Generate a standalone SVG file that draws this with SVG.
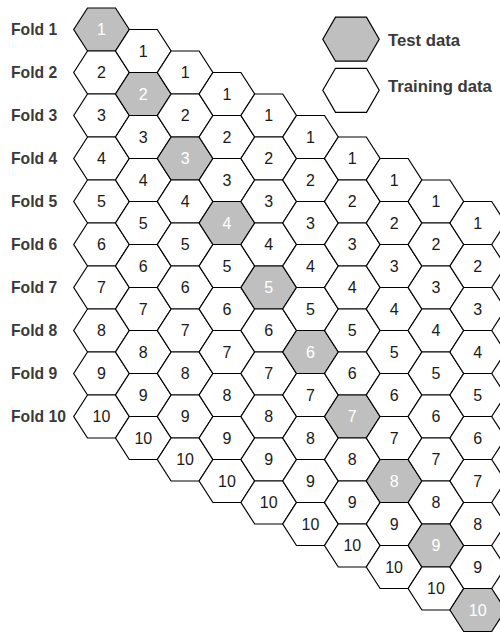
<svg xmlns="http://www.w3.org/2000/svg" xmlns:xlink="http://www.w3.org/1999/xlink" width="500" height="633" viewBox="0 0 500 633">
<style>
.tr{fill:#ffffff;stroke:#000;stroke-width:1.2;stroke-linejoin:miter}
.te{fill:#bfbfbf;stroke:#000;stroke-width:1.2;stroke-linejoin:miter}
.n{font-family:"Liberation Sans",Arial,sans-serif;font-size:16px;fill:#1a1a1a;text-anchor:middle}
.nw{font-family:"Liberation Sans",Arial,sans-serif;font-size:16px;fill:#ffffff;text-anchor:middle}
.fl{font-family:"Liberation Sans",Arial,sans-serif;font-size:15.7px;font-weight:bold;fill:#3a3a3a}
.lg{font-family:"Liberation Sans",Arial,sans-serif;font-size:16.7px;font-weight:bold;fill:#3a3a3a}
</style>
<defs>
<path id="h" d="M-27.8,0 L-14,-21.5 L14,-21.5 L27.8,0 L14,21.5 L-14,21.5 Z"/>
<path id="hl" d="M-28.2,0 L-15.5,-22 L15.5,-22 L28.2,0 L15.5,22 L-15.5,22 Z"/>
</defs>
<rect width="500" height="633" fill="#ffffff"/>
<g id="connectors"></g>
<g id="fold-labels">
<text class="fl" x="11" y="34.5">Fold 1</text>
<text class="fl" x="11" y="77.5">Fold 2</text>
<text class="fl" x="11" y="120.5">Fold 3</text>
<text class="fl" x="11" y="163.5">Fold 4</text>
<text class="fl" x="11" y="206.5">Fold 5</text>
<text class="fl" x="11" y="249.5">Fold 6</text>
<text class="fl" x="11" y="292.5">Fold 7</text>
<text class="fl" x="11" y="335.5">Fold 8</text>
<text class="fl" x="11" y="378.5">Fold 9</text>
<text class="fl" x="11" y="421.5">Fold 10</text>
</g>
<g id="legend-test"><use xlink:href="#hl" class="te" x="351" y="39.2"/><text class="lg" x="388" y="46">Test data</text></g>
<g id="legend-train"><use xlink:href="#hl" class="tr" x="351" y="90.3"/><text class="lg" x="388" y="91.7">Training data</text></g>
<g id="col0">
<g id="n0-1" transform="translate(101.5 29.5)"><use xlink:href="#h" class="te"/><text class="nw" y="5.8">1</text></g>
<g id="n0-2" transform="translate(101.5 72.5)"><use xlink:href="#h" class="tr"/><text class="n" y="5.8">2</text></g>
<g id="n0-3" transform="translate(101.5 115.5)"><use xlink:href="#h" class="tr"/><text class="n" y="5.8">3</text></g>
<g id="n0-4" transform="translate(101.5 158.5)"><use xlink:href="#h" class="tr"/><text class="n" y="5.8">4</text></g>
<g id="n0-5" transform="translate(101.5 201.5)"><use xlink:href="#h" class="tr"/><text class="n" y="5.8">5</text></g>
<g id="n0-6" transform="translate(101.5 244.5)"><use xlink:href="#h" class="tr"/><text class="n" y="5.8">6</text></g>
<g id="n0-7" transform="translate(101.5 287.5)"><use xlink:href="#h" class="tr"/><text class="n" y="5.8">7</text></g>
<g id="n0-8" transform="translate(101.5 330.5)"><use xlink:href="#h" class="tr"/><text class="n" y="5.8">8</text></g>
<g id="n0-9" transform="translate(101.5 373.5)"><use xlink:href="#h" class="tr"/><text class="n" y="5.8">9</text></g>
<g id="n0-10" transform="translate(101.5 416.5)"><use xlink:href="#h" class="tr"/><text class="n" y="5.8">10</text></g>
</g>
<g id="col1">
<g id="n1-1" transform="translate(143.3 51)"><use xlink:href="#h" class="tr"/><text class="n" y="5.8">1</text></g>
<g id="n1-2" transform="translate(143.3 94)"><use xlink:href="#h" class="te"/><text class="nw" y="5.8">2</text></g>
<g id="n1-3" transform="translate(143.3 137)"><use xlink:href="#h" class="tr"/><text class="n" y="5.8">3</text></g>
<g id="n1-4" transform="translate(143.3 180)"><use xlink:href="#h" class="tr"/><text class="n" y="5.8">4</text></g>
<g id="n1-5" transform="translate(143.3 223)"><use xlink:href="#h" class="tr"/><text class="n" y="5.8">5</text></g>
<g id="n1-6" transform="translate(143.3 266)"><use xlink:href="#h" class="tr"/><text class="n" y="5.8">6</text></g>
<g id="n1-7" transform="translate(143.3 309)"><use xlink:href="#h" class="tr"/><text class="n" y="5.8">7</text></g>
<g id="n1-8" transform="translate(143.3 352)"><use xlink:href="#h" class="tr"/><text class="n" y="5.8">8</text></g>
<g id="n1-9" transform="translate(143.3 395)"><use xlink:href="#h" class="tr"/><text class="n" y="5.8">9</text></g>
<g id="n1-10" transform="translate(143.3 438)"><use xlink:href="#h" class="tr"/><text class="n" y="5.8">10</text></g>
</g>
<g id="col2">
<g id="n2-1" transform="translate(185.1 72.5)"><use xlink:href="#h" class="tr"/><text class="n" y="5.8">1</text></g>
<g id="n2-2" transform="translate(185.1 115.5)"><use xlink:href="#h" class="tr"/><text class="n" y="5.8">2</text></g>
<g id="n2-3" transform="translate(185.1 158.5)"><use xlink:href="#h" class="te"/><text class="nw" y="5.8">3</text></g>
<g id="n2-4" transform="translate(185.1 201.5)"><use xlink:href="#h" class="tr"/><text class="n" y="5.8">4</text></g>
<g id="n2-5" transform="translate(185.1 244.5)"><use xlink:href="#h" class="tr"/><text class="n" y="5.8">5</text></g>
<g id="n2-6" transform="translate(185.1 287.5)"><use xlink:href="#h" class="tr"/><text class="n" y="5.8">6</text></g>
<g id="n2-7" transform="translate(185.1 330.5)"><use xlink:href="#h" class="tr"/><text class="n" y="5.8">7</text></g>
<g id="n2-8" transform="translate(185.1 373.5)"><use xlink:href="#h" class="tr"/><text class="n" y="5.8">8</text></g>
<g id="n2-9" transform="translate(185.1 416.5)"><use xlink:href="#h" class="tr"/><text class="n" y="5.8">9</text></g>
<g id="n2-10" transform="translate(185.1 459.5)"><use xlink:href="#h" class="tr"/><text class="n" y="5.8">10</text></g>
</g>
<g id="col3">
<g id="n3-1" transform="translate(226.9 94)"><use xlink:href="#h" class="tr"/><text class="n" y="5.8">1</text></g>
<g id="n3-2" transform="translate(226.9 137)"><use xlink:href="#h" class="tr"/><text class="n" y="5.8">2</text></g>
<g id="n3-3" transform="translate(226.9 180)"><use xlink:href="#h" class="tr"/><text class="n" y="5.8">3</text></g>
<g id="n3-4" transform="translate(226.9 223)"><use xlink:href="#h" class="te"/><text class="nw" y="5.8">4</text></g>
<g id="n3-5" transform="translate(226.9 266)"><use xlink:href="#h" class="tr"/><text class="n" y="5.8">5</text></g>
<g id="n3-6" transform="translate(226.9 309)"><use xlink:href="#h" class="tr"/><text class="n" y="5.8">6</text></g>
<g id="n3-7" transform="translate(226.9 352)"><use xlink:href="#h" class="tr"/><text class="n" y="5.8">7</text></g>
<g id="n3-8" transform="translate(226.9 395)"><use xlink:href="#h" class="tr"/><text class="n" y="5.8">8</text></g>
<g id="n3-9" transform="translate(226.9 438)"><use xlink:href="#h" class="tr"/><text class="n" y="5.8">9</text></g>
<g id="n3-10" transform="translate(226.9 481)"><use xlink:href="#h" class="tr"/><text class="n" y="5.8">10</text></g>
</g>
<g id="col4">
<g id="n4-1" transform="translate(268.7 115.5)"><use xlink:href="#h" class="tr"/><text class="n" y="5.8">1</text></g>
<g id="n4-2" transform="translate(268.7 158.5)"><use xlink:href="#h" class="tr"/><text class="n" y="5.8">2</text></g>
<g id="n4-3" transform="translate(268.7 201.5)"><use xlink:href="#h" class="tr"/><text class="n" y="5.8">3</text></g>
<g id="n4-4" transform="translate(268.7 244.5)"><use xlink:href="#h" class="tr"/><text class="n" y="5.8">4</text></g>
<g id="n4-5" transform="translate(268.7 287.5)"><use xlink:href="#h" class="te"/><text class="nw" y="5.8">5</text></g>
<g id="n4-6" transform="translate(268.7 330.5)"><use xlink:href="#h" class="tr"/><text class="n" y="5.8">6</text></g>
<g id="n4-7" transform="translate(268.7 373.5)"><use xlink:href="#h" class="tr"/><text class="n" y="5.8">7</text></g>
<g id="n4-8" transform="translate(268.7 416.5)"><use xlink:href="#h" class="tr"/><text class="n" y="5.8">8</text></g>
<g id="n4-9" transform="translate(268.7 459.5)"><use xlink:href="#h" class="tr"/><text class="n" y="5.8">9</text></g>
<g id="n4-10" transform="translate(268.7 502.5)"><use xlink:href="#h" class="tr"/><text class="n" y="5.8">10</text></g>
</g>
<g id="col5">
<g id="n5-1" transform="translate(310.5 137)"><use xlink:href="#h" class="tr"/><text class="n" y="5.8">1</text></g>
<g id="n5-2" transform="translate(310.5 180)"><use xlink:href="#h" class="tr"/><text class="n" y="5.8">2</text></g>
<g id="n5-3" transform="translate(310.5 223)"><use xlink:href="#h" class="tr"/><text class="n" y="5.8">3</text></g>
<g id="n5-4" transform="translate(310.5 266)"><use xlink:href="#h" class="tr"/><text class="n" y="5.8">4</text></g>
<g id="n5-5" transform="translate(310.5 309)"><use xlink:href="#h" class="tr"/><text class="n" y="5.8">5</text></g>
<g id="n5-6" transform="translate(310.5 352)"><use xlink:href="#h" class="te"/><text class="nw" y="5.8">6</text></g>
<g id="n5-7" transform="translate(310.5 395)"><use xlink:href="#h" class="tr"/><text class="n" y="5.8">7</text></g>
<g id="n5-8" transform="translate(310.5 438)"><use xlink:href="#h" class="tr"/><text class="n" y="5.8">8</text></g>
<g id="n5-9" transform="translate(310.5 481)"><use xlink:href="#h" class="tr"/><text class="n" y="5.8">9</text></g>
<g id="n5-10" transform="translate(310.5 524)"><use xlink:href="#h" class="tr"/><text class="n" y="5.8">10</text></g>
</g>
<g id="col6">
<g id="n6-1" transform="translate(352.3 158.5)"><use xlink:href="#h" class="tr"/><text class="n" y="5.8">1</text></g>
<g id="n6-2" transform="translate(352.3 201.5)"><use xlink:href="#h" class="tr"/><text class="n" y="5.8">2</text></g>
<g id="n6-3" transform="translate(352.3 244.5)"><use xlink:href="#h" class="tr"/><text class="n" y="5.8">3</text></g>
<g id="n6-4" transform="translate(352.3 287.5)"><use xlink:href="#h" class="tr"/><text class="n" y="5.8">4</text></g>
<g id="n6-5" transform="translate(352.3 330.5)"><use xlink:href="#h" class="tr"/><text class="n" y="5.8">5</text></g>
<g id="n6-6" transform="translate(352.3 373.5)"><use xlink:href="#h" class="tr"/><text class="n" y="5.8">6</text></g>
<g id="n6-7" transform="translate(352.3 416.5)"><use xlink:href="#h" class="te"/><text class="nw" y="5.8">7</text></g>
<g id="n6-8" transform="translate(352.3 459.5)"><use xlink:href="#h" class="tr"/><text class="n" y="5.8">8</text></g>
<g id="n6-9" transform="translate(352.3 502.5)"><use xlink:href="#h" class="tr"/><text class="n" y="5.8">9</text></g>
<g id="n6-10" transform="translate(352.3 545.5)"><use xlink:href="#h" class="tr"/><text class="n" y="5.8">10</text></g>
</g>
<g id="col7">
<g id="n7-1" transform="translate(394.1 180)"><use xlink:href="#h" class="tr"/><text class="n" y="5.8">1</text></g>
<g id="n7-2" transform="translate(394.1 223)"><use xlink:href="#h" class="tr"/><text class="n" y="5.8">2</text></g>
<g id="n7-3" transform="translate(394.1 266)"><use xlink:href="#h" class="tr"/><text class="n" y="5.8">3</text></g>
<g id="n7-4" transform="translate(394.1 309)"><use xlink:href="#h" class="tr"/><text class="n" y="5.8">4</text></g>
<g id="n7-5" transform="translate(394.1 352)"><use xlink:href="#h" class="tr"/><text class="n" y="5.8">5</text></g>
<g id="n7-6" transform="translate(394.1 395)"><use xlink:href="#h" class="tr"/><text class="n" y="5.8">6</text></g>
<g id="n7-7" transform="translate(394.1 438)"><use xlink:href="#h" class="tr"/><text class="n" y="5.8">7</text></g>
<g id="n7-8" transform="translate(394.1 481)"><use xlink:href="#h" class="te"/><text class="nw" y="5.8">8</text></g>
<g id="n7-9" transform="translate(394.1 524)"><use xlink:href="#h" class="tr"/><text class="n" y="5.8">9</text></g>
<g id="n7-10" transform="translate(394.1 567)"><use xlink:href="#h" class="tr"/><text class="n" y="5.8">10</text></g>
</g>
<g id="col8">
<g id="n8-1" transform="translate(435.9 201.5)"><use xlink:href="#h" class="tr"/><text class="n" y="5.8">1</text></g>
<g id="n8-2" transform="translate(435.9 244.5)"><use xlink:href="#h" class="tr"/><text class="n" y="5.8">2</text></g>
<g id="n8-3" transform="translate(435.9 287.5)"><use xlink:href="#h" class="tr"/><text class="n" y="5.8">3</text></g>
<g id="n8-4" transform="translate(435.9 330.5)"><use xlink:href="#h" class="tr"/><text class="n" y="5.8">4</text></g>
<g id="n8-5" transform="translate(435.9 373.5)"><use xlink:href="#h" class="tr"/><text class="n" y="5.8">5</text></g>
<g id="n8-6" transform="translate(435.9 416.5)"><use xlink:href="#h" class="tr"/><text class="n" y="5.8">6</text></g>
<g id="n8-7" transform="translate(435.9 459.5)"><use xlink:href="#h" class="tr"/><text class="n" y="5.8">7</text></g>
<g id="n8-8" transform="translate(435.9 502.5)"><use xlink:href="#h" class="tr"/><text class="n" y="5.8">8</text></g>
<g id="n8-9" transform="translate(435.9 545.5)"><use xlink:href="#h" class="te"/><text class="nw" y="5.8">9</text></g>
<g id="n8-10" transform="translate(435.9 588.5)"><use xlink:href="#h" class="tr"/><text class="n" y="5.8">10</text></g>
</g>
<g id="col9">
<g id="n9-1" transform="translate(477.7 223)"><use xlink:href="#h" class="tr"/><text class="n" y="5.8">1</text></g>
<g id="n9-2" transform="translate(477.7 266)"><use xlink:href="#h" class="tr"/><text class="n" y="5.8">2</text></g>
<g id="n9-3" transform="translate(477.7 309)"><use xlink:href="#h" class="tr"/><text class="n" y="5.8">3</text></g>
<g id="n9-4" transform="translate(477.7 352)"><use xlink:href="#h" class="tr"/><text class="n" y="5.8">4</text></g>
<g id="n9-5" transform="translate(477.7 395)"><use xlink:href="#h" class="tr"/><text class="n" y="5.8">5</text></g>
<g id="n9-6" transform="translate(477.7 438)"><use xlink:href="#h" class="tr"/><text class="n" y="5.8">6</text></g>
<g id="n9-7" transform="translate(477.7 481)"><use xlink:href="#h" class="tr"/><text class="n" y="5.8">7</text></g>
<g id="n9-8" transform="translate(477.7 524)"><use xlink:href="#h" class="tr"/><text class="n" y="5.8">8</text></g>
<g id="n9-9" transform="translate(477.7 567)"><use xlink:href="#h" class="tr"/><text class="n" y="5.8">9</text></g>
<g id="n9-10" transform="translate(477.7 610)"><use xlink:href="#h" class="te"/><text class="nw" y="5.8">10</text></g>
</g>
</svg>
